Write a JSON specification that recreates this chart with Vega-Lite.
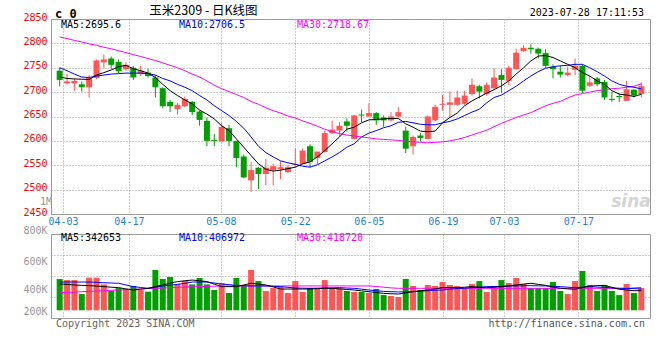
{
  "$schema": "https://vega.github.io/schema/vega-lite/v6.json",
  "padding": {"left": 22, "top": 4, "right": 2, "bottom": 2},
  "background": "white",
  "spacing": -3,
  "data": {"values": [
    {"i":0,"o":2744,"h":2750,"l":2712,"c":2725,"v":479000,"m5":2731,"m10":2750,"m30":2813,"vm5":443000,"vm10":457000,"vm30":381000},
    {"i":1,"o":2718,"h":2738,"l":2716,"c":2722,"v":471000,"m5":2728,"m10":2744,"m30":2810,"vm5":440000,"vm10":457000,"vm30":383000},
    {"i":2,"o":2718,"h":2728,"l":2703,"c":2723,"v":471000,"m5":2727,"m10":2737,"m30":2806,"vm5":436000,"vm10":457000,"vm30":385000},
    {"i":3,"o":2716,"h":2722,"l":2701,"c":2710,"v":371000,"m5":2726.5,"m10":2731,"m30":2803,"vm5":433000,"vm10":457000,"vm30":388000},
    {"i":4,"o":2710,"h":2735,"l":2689,"c":2729,"v":488000,"m5":2726,"m10":2730,"m30":2799,"vm5":431000,"vm10":457000,"vm30":390000},
    {"i":5,"o":2729,"h":2767,"l":2727,"c":2765,"v":488000,"m5":2735,"m10":2733,"m30":2796,"vm5":428000,"vm10":455000,"vm30":392000},
    {"i":6,"o":2761,"h":2777,"l":2750,"c":2767,"v":440000,"m5":2740,"m10":2735,"m30":2792,"vm5":424000,"vm10":452000,"vm30":395000},
    {"i":7,"o":2769,"h":2773,"l":2748,"c":2756,"v":395000,"m5":2745.5,"m10":2737,"m30":2789,"vm5":420000,"vm10":450000,"vm30":398000},
    {"i":8,"o":2762,"h":2767,"l":2739,"c":2743,"v":414000,"m5":2752,"m10":2738,"m30":2785,"vm5":417000,"vm10":448000,"vm30":400000},
    {"i":9,"o":2747,"h":2761,"l":2744,"c":2756,"v":407000,"m5":2755,"m10":2739,"m30":2781,"vm5":408000,"vm10":436000,"vm30":402000},
    {"i":10,"o":2750,"h":2754,"l":2725,"c":2730,"v":429000,"m5":2748,"m10":2739,"m30":2777,"vm5":400000,"vm10":424000,"vm30":405000},
    {"i":11,"o":2737,"h":2754,"l":2733,"c":2744,"v":400000,"m5":2744,"m10":2739,"m30":2773,"vm5":406000,"vm10":418000,"vm30":408000},
    {"i":12,"o":2740,"h":2748,"l":2730,"c":2733,"v":388000,"m5":2739,"m10":2738,"m30":2769,"vm5":412000,"vm10":412000,"vm30":410000},
    {"i":13,"o":2730,"h":2735,"l":2689,"c":2710,"v":543000,"m5":2730,"m10":2735,"m30":2765,"vm5":424000,"vm10":420000,"vm30":412000},
    {"i":14,"o":2708,"h":2710,"l":2667,"c":2671,"v":479000,"m5":2716,"m10":2728,"m30":2760,"vm5":436000,"vm10":429000,"vm30":414000},
    {"i":15,"o":2680,"h":2684,"l":2659,"c":2671,"v":493000,"m5":2703,"m10":2723,"m30":2755,"vm5":448000,"vm10":434000,"vm30":417000},
    {"i":16,"o":2665,"h":2678,"l":2654,"c":2674,"v":443000,"m5":2693,"m10":2716,"m30":2750,"vm5":460000,"vm10":440000,"vm30":419000},
    {"i":17,"o":2671,"h":2691,"l":2669,"c":2686,"v":464000,"m5":2684,"m10":2710,"m30":2744,"vm5":466000,"vm10":448000,"vm30":421000},
    {"i":18,"o":2680,"h":2682,"l":2653,"c":2659,"v":440000,"m5":2676,"m10":2703,"m30":2737,"vm5":471000,"vm10":457000,"vm30":423000},
    {"i":19,"o":2660,"h":2662,"l":2631,"c":2643,"v":486000,"m5":2663,"m10":2693,"m30":2731,"vm5":466000,"vm10":457000,"vm30":424000},
    {"i":20,"o":2641,"h":2648,"l":2589,"c":2600,"v":440000,"m5":2655,"m10":2684,"m30":2723,"vm5":460000,"vm10":457000,"vm30":426000},
    {"i":21,"o":2602,"h":2614,"l":2589,"c":2600,"v":400000,"m5":2645,"m10":2672,"m30":2714,"vm5":442000,"vm10":450000,"vm30":427000},
    {"i":22,"o":2599,"h":2637,"l":2599,"c":2629,"v":448000,"m5":2631,"m10":2662,"m30":2707,"vm5":424000,"vm10":443000,"vm30":428000},
    {"i":23,"o":2626,"h":2633,"l":2589,"c":2600,"v":379000,"m5":2621,"m10":2652,"m30":2701,"vm5":424000,"vm10":438000,"vm30":428000},
    {"i":24,"o":2600,"h":2600,"l":2546,"c":2565,"v":486000,"m5":2604,"m10":2640,"m30":2695,"vm5":424000,"vm10":433000,"vm30":429000},
    {"i":25,"o":2568,"h":2572,"l":2524,"c":2525,"v":429000,"m5":2587,"m10":2626,"m30":2689,"vm5":436000,"vm10":431000,"vm30":429000},
    {"i":26,"o":2519,"h":2557,"l":2495,"c":2540,"v":543000,"m5":2570,"m10":2608,"m30":2681,"vm5":448000,"vm10":429000,"vm30":429000},
    {"i":27,"o":2545,"h":2546,"l":2501,"c":2532,"v":464000,"m5":2553,"m10":2589,"m30":2675,"vm5":442000,"vm10":429000,"vm30":429000},
    {"i":28,"o":2532,"h":2563,"l":2509,"c":2545,"v":393000,"m5":2542,"m10":2576,"m30":2668,"vm5":436000,"vm10":429000,"vm30":429000},
    {"i":29,"o":2540,"h":2553,"l":2509,"c":2548,"v":414000,"m5":2538,"m10":2567,"m30":2662,"vm5":422000,"vm10":426000,"vm30":429000},
    {"i":30,"o":2542,"h":2558,"l":2521,"c":2546,"v":424000,"m5":2540,"m10":2559,"m30":2657,"vm5":407000,"vm10":424000,"vm30":429000},
    {"i":31,"o":2536,"h":2550,"l":2534,"c":2546,"v":379000,"m5":2543,"m10":2555,"m30":2651,"vm5":407000,"vm10":419000,"vm30":429000},
    {"i":32,"o":2551,"h":2585,"l":2546,"c":2553,"v":464000,"m5":2546,"m10":2552,"m30":2647,"vm5":407000,"vm10":414000,"vm30":429000},
    {"i":33,"o":2553,"h":2584,"l":2551,"c":2580,"v":386000,"m5":2553,"m10":2548,"m30":2641,"vm5":407000,"vm10":413000,"vm30":429000},
    {"i":34,"o":2589,"h":2593,"l":2546,"c":2557,"v":414000,"m5":2557,"m10":2546,"m30":2636,"vm5":407000,"vm10":412000,"vm30":429000},
    {"i":35,"o":2565,"h":2578,"l":2551,"c":2578,"v":407000,"m5":2567,"m10":2551,"m30":2630,"vm5":410000,"vm10":413000,"vm30":429000},
    {"i":36,"o":2577,"h":2621,"l":2576,"c":2616,"v":471000,"m5":2580,"m10":2559,"m30":2624,"vm5":412000,"vm10":414000,"vm30":429000},
    {"i":37,"o":2616,"h":2641,"l":2614,"c":2623,"v":412000,"m5":2594,"m10":2567,"m30":2619,"vm5":412000,"vm10":415000,"vm30":429000},
    {"i":38,"o":2621,"h":2638,"l":2610,"c":2631,"v":412000,"m5":2608,"m10":2576,"m30":2615,"vm5":408000,"vm10":417000,"vm30":429000},
    {"i":39,"o":2640,"h":2646,"l":2619,"c":2631,"v":393000,"m5":2624,"m10":2587,"m30":2612,"vm5":404000,"vm10":414000,"vm30":429000},
    {"i":40,"o":2604,"h":2653,"l":2603,"c":2652,"v":386000,"m5":2628,"m10":2594,"m30":2610,"vm5":400000,"vm10":412000,"vm30":429000},
    {"i":41,"o":2654,"h":2664,"l":2638,"c":2652,"v":386000,"m5":2637,"m10":2608,"m30":2608,"vm5":394000,"vm10":406000,"vm30":429000},
    {"i":42,"o":2650,"h":2677,"l":2650,"c":2657,"v":379000,"m5":2643,"m10":2616,"m30":2606,"vm5":388000,"vm10":400000,"vm30":429000},
    {"i":43,"o":2657,"h":2659,"l":2633,"c":2642,"v":407000,"m5":2644,"m10":2621,"m30":2604,"vm5":382000,"vm10":395000,"vm30":425000},
    {"i":44,"o":2648,"h":2652,"l":2629,"c":2642,"v":364000,"m5":2645,"m10":2627,"m30":2603,"vm5":376000,"vm10":390000,"vm30":420000},
    {"i":45,"o":2642,"h":2659,"l":2640,"c":2650,"v":357000,"m5":2646,"m10":2631,"m30":2602,"vm5":373000,"vm10":388000,"vm30":415000},
    {"i":46,"o":2650,"h":2669,"l":2648,"c":2659,"v":350000,"m5":2646,"m10":2638,"m30":2601,"vm5":371000,"vm10":386000,"vm30":412000},
    {"i":47,"o":2621,"h":2629,"l":2575,"c":2584,"v":479000,"m5":2635,"m10":2640,"m30":2599,"vm5":380000,"vm10":387000,"vm30":412000},
    {"i":48,"o":2589,"h":2611,"l":2572,"c":2608,"v":429000,"m5":2628,"m10":2637,"m30":2598,"vm5":388000,"vm10":388000,"vm30":412000},
    {"i":49,"o":2611,"h":2616,"l":2599,"c":2606,"v":400000,"m5":2620,"m10":2634,"m30":2597,"vm5":394000,"vm10":391000,"vm30":412000},
    {"i":50,"o":2604,"h":2652,"l":2603,"c":2650,"v":436000,"m5":2619,"m10":2633,"m30":2596,"vm5":400000,"vm10":395000,"vm30":412000},
    {"i":51,"o":2642,"h":2674,"l":2640,"c":2670,"v":429000,"m5":2620,"m10":2633,"m30":2597,"vm5":408000,"vm10":398000,"vm30":412000},
    {"i":52,"o":2674,"h":2694,"l":2662,"c":2676,"v":457000,"m5":2637,"m10":2637,"m30":2598,"vm5":417000,"vm10":400000,"vm30":412000},
    {"i":53,"o":2674,"h":2701,"l":2648,"c":2679,"v":436000,"m5":2648,"m10":2640,"m30":2600,"vm5":417000,"vm10":405000,"vm30":412000},
    {"i":54,"o":2674,"h":2703,"l":2672,"c":2689,"v":429000,"m5":2657,"m10":2645,"m30":2603,"vm5":417000,"vm10":410000,"vm30":412000},
    {"i":55,"o":2676,"h":2703,"l":2674,"c":2693,"v":414000,"m5":2672,"m10":2652,"m30":2607,"vm5":420000,"vm10":413000,"vm30":412000},
    {"i":56,"o":2696,"h":2728,"l":2693,"c":2715,"v":443000,"m5":2682,"m10":2659,"m30":2612,"vm5":424000,"vm10":417000,"vm30":412000},
    {"i":57,"o":2712,"h":2715,"l":2687,"c":2701,"v":464000,"m5":2690,"m10":2665,"m30":2617,"vm5":420000,"vm10":420000,"vm30":412000},
    {"i":58,"o":2696,"h":2720,"l":2693,"c":2715,"v":386000,"m5":2698,"m10":2678,"m30":2622,"vm5":417000,"vm10":424000,"vm30":412000},
    {"i":59,"o":2708,"h":2749,"l":2706,"c":2730,"v":429000,"m5":2705,"m10":2689,"m30":2629,"vm5":420000,"vm10":425000,"vm30":412000},
    {"i":60,"o":2735,"h":2747,"l":2699,"c":2725,"v":471000,"m5":2713,"m10":2694,"m30":2636,"vm5":424000,"vm10":426000,"vm30":412000},
    {"i":61,"o":2723,"h":2754,"l":2713,"c":2750,"v":450000,"m5":2723,"m10":2703,"m30":2642,"vm5":430000,"vm10":428000,"vm30":412000},
    {"i":62,"o":2747,"h":2789,"l":2746,"c":2781,"v":486000,"m5":2737,"m10":2712,"m30":2648,"vm5":436000,"vm10":429000,"vm30":412000},
    {"i":63,"o":2784,"h":2796,"l":2783,"c":2791,"v":443000,"m5":2750,"m10":2723,"m30":2653,"vm5":442000,"vm10":430000,"vm30":412000},
    {"i":64,"o":2791,"h":2798,"l":2779,"c":2788,"v":414000,"m5":2764,"m10":2733,"m30":2658,"vm5":448000,"vm10":431000,"vm30":412000},
    {"i":65,"o":2789,"h":2791,"l":2769,"c":2779,"v":414000,"m5":2774,"m10":2742,"m30":2665,"vm5":440000,"vm10":430000,"vm30":412000},
    {"i":66,"o":2780,"h":2788,"l":2750,"c":2754,"v":414000,"m5":2775,"m10":2749,"m30":2672,"vm5":433000,"vm10":429000,"vm30":412000},
    {"i":67,"o":2752,"h":2757,"l":2728,"c":2747,"v":457000,"m5":2771,"m10":2752,"m30":2677,"vm5":422000,"vm10":426000,"vm30":412000},
    {"i":68,"o":2742,"h":2754,"l":2730,"c":2736,"v":393000,"m5":2764,"m10":2754,"m30":2681,"vm5":412000,"vm10":424000,"vm30":412000},
    {"i":69,"o":2735,"h":2752,"l":2732,"c":2740,"v":371000,"m5":2757,"m10":2755,"m30":2688,"vm5":408000,"vm10":420000,"vm30":412000},
    {"i":70,"o":2746,"h":2769,"l":2735,"c":2754,"v":464000,"m5":2750,"m10":2757,"m30":2694,"vm5":405000,"vm10":417000,"vm30":412000},
    {"i":71,"o":2754,"h":2757,"l":2698,"c":2703,"v":536000,"m5":2740,"m10":2757,"m30":2697,"vm5":417000,"vm10":420000,"vm30":412000},
    {"i":72,"o":2713,"h":2733,"l":2710,"c":2720,"v":436000,"m5":2733,"m10":2750,"m30":2700,"vm5":429000,"vm10":424000,"vm30":412000},
    {"i":73,"o":2728,"h":2731,"l":2712,"c":2716,"v":393000,"m5":2723,"m10":2742,"m30":2703,"vm5":431000,"vm10":421000,"vm30":412000},
    {"i":74,"o":2721,"h":2725,"l":2684,"c":2689,"v":436000,"m5":2716,"m10":2733,"m30":2705,"vm5":433000,"vm10":419000,"vm30":412000},
    {"i":75,"o":2686,"h":2701,"l":2680,"c":2684,"v":393000,"m5":2703,"m10":2723,"m30":2707,"vm5":419000,"vm10":415000,"vm30":412000},
    {"i":76,"o":2692,"h":2697,"l":2680,"c":2690,"v":364000,"m5":2696,"m10":2716,"m30":2708,"vm5":405000,"vm10":412000,"vm30":412000},
    {"i":77,"o":2682,"h":2723,"l":2682,"c":2706,"v":443000,"m5":2694,"m10":2712,"m30":2710,"vm5":400000,"vm10":411000,"vm30":412000},
    {"i":78,"o":2705,"h":2706,"l":2689,"c":2693,"v":379000,"m5":2691,"m10":2710,"m30":2712,"vm5":395000,"vm10":410000,"vm30":415000},
    {"i":79,"o":2696,"h":2720,"l":2689,"c":2712,"v":414000,"m5":2695.6,"m10":2706.5,"m30":2717,"vm5":395000,"vm10":407000,"vm30":419000}
  ]},
  "vconcat": [
    {
      "width": 599,
      "height": 195,
      "view": {"stroke": "#999999"},
      "layer": [
        {"mark": {"type": "rule", "strokeWidth": 1},
         "encoding": {
           "x": {"field": "i", "type": "quantitative", "title": null,
             "scale": {"domain": [-0.5, 79.5], "nice": false, "zero": false},
             "axis": {"values": [0.45, 9.4, 21.9, 32, 42, 52.05, 60.35, 70.45], "tickCount": 20, "grid": true, "gridColor": "#a0a0a0", "gridDash": [1, 2], "domain": false, "ticks": false, "tickSize": 0, "minExtent": 0, "maxExtent": 15, "labelFont": "DejaVu Sans Mono", "labelFontSize": 10, "labelOverlap": false, "labelFlush": false, "labelColor": "#1f7fd6", "labelPadding": 2,
               "labelExpr": "datum.value < 5 ? '04-03' : datum.value < 15 ? '04-17' : datum.value < 27 ? '05-08' : datum.value < 37 ? '05-22' : datum.value < 47 ? '06-05' : datum.value < 56 ? '06-19' : datum.value < 65 ? '07-03' : '07-17'"}},
           "y": {"field": "l", "type": "quantitative", "title": null,
             "scale": {"domain": [2450, 2850], "nice": false, "zero": false},
             "axis": {"values": [2450, 2500, 2550, 2600, 2650, 2700, 2750, 2800, 2850], "tickCount": 20, "format": "d", "grid": true, "gridColor": "#a0a0a0", "gridDash": [1, 2], "domain": false, "ticks": false, "tickSize": 0, "minExtent": 0, "labelFont": "DejaVu Sans Mono", "labelFontSize": 10, "labelOverlap": false, "labelColor": "#ff0000", "labelPadding": 4, "labelOffset": -2}},
           "y2": {"field": "h"},
           "color": {"condition": {"test": "datum.c >= datum.o", "value": "#ff5555"}, "value": "#00a000"}
         }},
        {"mark": {"type": "bar", "size": 6},
         "encoding": {
           "x": {"field": "i", "type": "quantitative"},
           "y": {"field": "o", "type": "quantitative"},
           "y2": {"field": "c"},
           "color": {"condition": {"test": "datum.c >= datum.o", "value": "#ff5555"}, "value": "#00a000"}
         }},
        {"mark": {"type": "line", "strokeWidth": 1, "color": "#ff00ff"}, "encoding": {"x": {"field": "i", "type": "quantitative"}, "y": {"field": "m30", "type": "quantitative"}}},
        {"mark": {"type": "line", "strokeWidth": 1, "color": "#0000ff"}, "encoding": {"x": {"field": "i", "type": "quantitative"}, "y": {"field": "m10", "type": "quantitative"}}},
        {"mark": {"type": "line", "strokeWidth": 1, "color": "#000000"}, "encoding": {"x": {"field": "i", "type": "quantitative"}, "y": {"field": "m5", "type": "quantitative"}}},
        {"data": {"values": [{"t": "MA5:2695.6"}]},
         "mark": {"type": "text", "align": "left", "baseline": "middle", "font": "DejaVu Sans Mono", "fontSize": 10, "color": "#000000"},
         "encoding": {"x": {"datum": 0.17}, "y": {"datum": 2837.5}, "text": {"field": "t"}}},
        {"data": {"values": [{"t": "MA10:2706.5"}]},
         "mark": {"type": "text", "align": "left", "baseline": "middle", "font": "DejaVu Sans Mono", "fontSize": 10, "color": "#0000ff"},
         "encoding": {"x": {"datum": 16.19}, "y": {"datum": 2837.5}, "text": {"field": "t"}}},
        {"data": {"values": [{"t": "MA30:2718.67"}]},
         "mark": {"type": "text", "align": "left", "baseline": "middle", "font": "DejaVu Sans Mono", "fontSize": 10, "color": "#ff00ff"},
         "encoding": {"x": {"datum": 32.22}, "y": {"datum": 2837.5}, "text": {"field": "t"}}},
        {"data": {"values": [{"t": "c 0"}]},
         "mark": {"type": "text", "align": "left", "baseline": "middle", "font": "DejaVu Sans Mono", "fontWeight": "bold", "fontSize": 12, "color": "#000000"},
         "encoding": {"x": {"datum": -0.62}, "y": {"datum": 2861}, "text": {"field": "t"}}},
        {"data": {"values": [{"t": "玉米2309 - 日K线图"}]},
         "mark": {"type": "text", "align": "center", "baseline": "middle", "font": "Noto Sans CJK SC", "fontSize": 12.5, "color": "#000000"},
         "encoding": {"x": {"datum": 19.53}, "y": {"datum": 2867.2}, "text": {"field": "t"}}},
        {"data": {"values": [{"t": "2023-07-28 17:11:53"}]},
         "mark": {"type": "text", "align": "right", "baseline": "middle", "font": "DejaVu Sans Mono", "fontSize": 10, "color": "#000000"},
         "encoding": {"x": {"datum": 79.37}, "y": {"datum": 2861.5}, "text": {"field": "t"}}},
        {"data": {"values": [{"t": "1M"}]},
         "mark": {"type": "text", "align": "right", "baseline": "middle", "dx": -4, "font": "DejaVu Sans Mono", "fontSize": 10, "color": "#999999"},
         "encoding": {"x": {"datum": -0.5}, "y": {"datum": 2474.6}, "text": {"field": "t"}}},
        {"data": {"values": [{"t": "sina"}]},
         "mark": {"type": "text", "align": "center", "baseline": "middle", "font": "DejaVu Sans", "fontStyle": "italic", "fontWeight": "bold", "fontSize": 17, "color": "#d4d4d4"},
         "encoding": {"x": {"datum": 77.6}, "y": {"datum": 2474.6}, "text": {"field": "t"}}}
      ]
    },
    {
      "width": 599,
      "height": 84,
      "view": {"stroke": "#999999"},
      "layer": [
        {"mark": {"type": "bar", "size": 6},
         "encoding": {
           "x": {"field": "i", "type": "quantitative", "title": null,
             "scale": {"domain": [-0.5, 79.5], "nice": false, "zero": false},
             "axis": {"values": [0.45, 9.4, 21.9, 32, 42, 52.05, 60.35, 70.45], "tickCount": 20, "grid": true, "gridColor": "#a0a0a0", "gridDash": [1, 2], "domain": false, "ticks": false, "tickSize": 0, "minExtent": 0, "labels": false}},
           "y": {"field": "v", "type": "quantitative", "title": null,
             "scale": {"domain": [200000, 800000], "nice": false, "zero": false},
             "axis": {"values": [200000, 350000, 400000, 500000, 600000, 650000, 800000], "tickCount": 20, "grid": true, "gridColor": "#a0a0a0", "gridDash": [1, 2],
               "gridOpacity": {"condition": {"test": "datum.value == 400000 || datum.value == 600000", "value": 0}, "value": 1},
               "domain": false, "ticks": false, "tickSize": 0, "minExtent": 0, "labelFont": "DejaVu Sans Mono", "labelFontSize": 10, "labelOverlap": false, "labelColor": "#999999", "labelPadding": 4,
               "labelOffset": {"condition": [{"test": "datum.value == 200000", "value": -7}, {"test": "datum.value == 800000", "value": -4}], "value": -1},
               "labelExpr": "datum.value == 200000 ? '200K' : datum.value == 400000 ? '400K' : datum.value == 600000 ? '600K' : datum.value == 800000 ? '800K' : ''"}},
           "y2": {"datum": 255000},
           "color": {"condition": {"test": "datum.c >= datum.o", "value": "#ff5555"}, "value": "#00a000"}
         }},
        {"mark": {"type": "line", "strokeWidth": 1, "color": "#ff00ff"}, "encoding": {"x": {"field": "i", "type": "quantitative"}, "y": {"field": "vm30", "type": "quantitative"}}},
        {"mark": {"type": "line", "strokeWidth": 1, "color": "#0000ff"}, "encoding": {"x": {"field": "i", "type": "quantitative"}, "y": {"field": "vm10", "type": "quantitative"}}},
        {"mark": {"type": "line", "strokeWidth": 1, "color": "#000000"}, "encoding": {"x": {"field": "i", "type": "quantitative"}, "y": {"field": "vm5", "type": "quantitative"}}},
        {"data": {"values": [{"t": "MA5:342653"}]},
         "mark": {"type": "text", "align": "left", "baseline": "middle", "font": "DejaVu Sans Mono", "fontSize": 10, "color": "#000000"},
         "encoding": {"x": {"datum": 0.17}, "y": {"datum": 769000}, "text": {"field": "t"}}},
        {"data": {"values": [{"t": "MA10:406972"}]},
         "mark": {"type": "text", "align": "left", "baseline": "middle", "font": "DejaVu Sans Mono", "fontSize": 10, "color": "#0000ff"},
         "encoding": {"x": {"datum": 16.19}, "y": {"datum": 769000}, "text": {"field": "t"}}},
        {"data": {"values": [{"t": "MA30:418720"}]},
         "mark": {"type": "text", "align": "left", "baseline": "middle", "font": "DejaVu Sans Mono", "fontSize": 10, "color": "#ff00ff"},
         "encoding": {"x": {"datum": 32.22}, "y": {"datum": 769000}, "text": {"field": "t"}}},
        {"data": {"values": [{"t": "Copyright 2023 SINA.COM"}]},
         "mark": {"type": "text", "align": "left", "baseline": "middle", "font": "DejaVu Sans Mono", "fontSize": 10, "color": "#666666"},
         "encoding": {"x": {"datum": -0.5}, "y": {"datum": 157000}, "text": {"field": "t"}}},
        {"data": {"values": [{"t": "http://finance.sina.com.cn"}]},
         "mark": {"type": "text", "align": "right", "baseline": "middle", "font": "DejaVu Sans Mono", "fontSize": 10, "color": "#555555"},
         "encoding": {"x": {"datum": 79.5}, "y": {"datum": 157000}, "text": {"field": "t"}}}
      ]
    }
  ]
}
